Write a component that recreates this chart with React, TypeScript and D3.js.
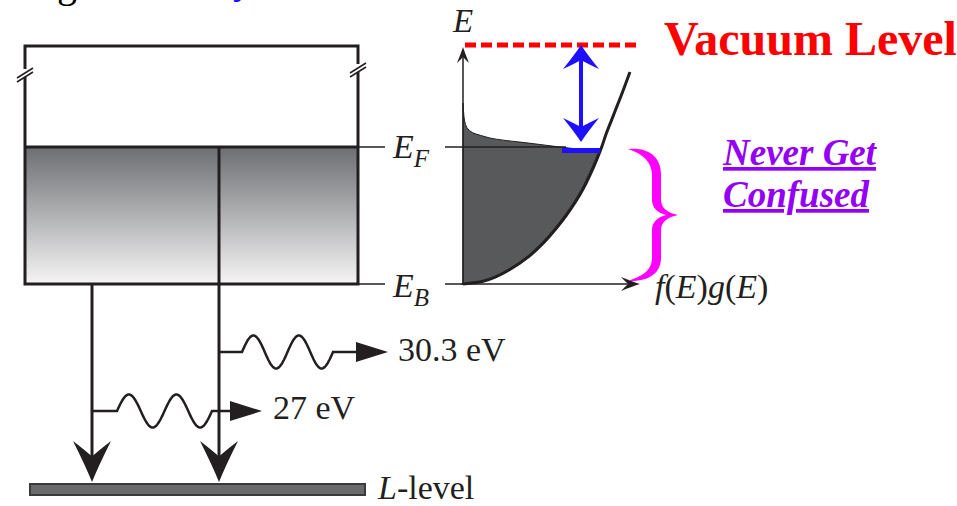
import React from "react";
import * as d3 from "d3";

// ---------- data ----------
const levelNames = ["E_B", "E_F", "Vacuum"];
const levelEnergies = [0, 1, 1.745];

// density of states g(E) (stroked curve)
const dosE = [0, 0.02, 0.05, 0.1, 0.2, 0.3, 0.4, 0.5, 0.6, 0.7, 0.8, 0.9, 1.0, 1.1, 1.2, 1.3, 1.4, 1.547];
const dosG = [0, 0.15, 0.24, 0.34, 0.49, 0.6, 0.69, 0.77, 0.84, 0.9, 0.95, 0.995, 1.035, 1.07, 1.11, 1.15, 1.19, 1.246];

// occupied states f(E)g(E) top edge (from axis spike to Fermi corner)
const occE = [1.32, 1.26, 1.19, 1.14, 1.105, 1.085, 1.066, 1.05, 1.036, 1.02, 1.0, 0.985, 0.975, 0.962, 0.94, 0.9];
const occG = [0, 0.004, 0.012, 0.03, 0.07, 0.13, 0.2, 0.3, 0.425, 0.56, 0.724, 0.86, 0.95, 1.0, 1.0, 0.985];

const photonLabels = ["30.3 eV", "27 eV"];
const axisLabels = ["E", "f(E)g(E)"];
const noteLines = ["Never Get", "Confused"];
const titleText = "Vacuum Level";

const INK = "#231f20";
const SERIF = "'Liberation Serif', 'Times New Roman', serif";

// ---------- scales ----------
const yE = d3.scaleLinear().domain([0, 1]).range([284, 147]);
const xG = d3.scaleLinear().domain([0, 1]).range([463, 597]);

function arrowHead(L: number, W: number) {
  return `M0,0 Q${-0.4 * L},${0.35 * W} ${-L},${W} Q${-0.75 * L},${0.3 * W} ${-0.62 * L},0 Q${-0.75 * L},${-0.3 * W} ${-L},${-W} Q${-0.4 * L},${-0.35 * W} 0,0 Z`;
}

function wave(x0: number, x1: number, y: number, periods: number, amp: number) {
  const n = 120;
  const pts: [number, number][] = d3.range(n + 1).map((i) => {
    const t = i / n;
    return [x0 + (x1 - x0) * t, y - amp * Math.sin(t * periods * 2 * Math.PI)];
  });
  return d3.line()(pts) as string;
}

export default function App() {
  const yEF = yE(levelEnergies[1]);
  const yEB = yE(levelEnergies[0]);
  const yVac = yE(levelEnergies[2]);
  const boxL = 25, boxR = 358, boxT = 46;
  const midX = 219, leftX = 92;
  const lTop = 484;

  const curveLine = d3.line<[number, number]>().x((d) => d[0]).y((d) => d[1]).curve(d3.curveCatmullRom);
  const dosPts: [number, number][] = dosE.map((e, i) => [xG(dosG[i]), yE(e)]);
  const topPts: [number, number][] = occE.map((e, i) => [xG(occG[i]), yE(e)]);
  const lowerPts: [number, number][] = dosE
    .map((e, i) => [xG(dosG[i]) - 1.5, yE(e)] as [number, number])
    .filter((p, i) => dosE[i] < 0.9)
    .reverse();
  const fillPath =
    `M${xG(0)},${yEB} L${xG(0)},${yE(occE[0])} ` +
    (curveLine(topPts) as string).replace(/^M/, "L") +
    " " +
    (curveLine([topPts[topPts.length - 1], ...lowerPts]) as string).replace(/^M/, "L") +
    " Z";

  const y303 = 352, y27 = 411;

  return (
    <svg width={957} height={506} style={{ position: "absolute", left: 0, top: 0, background: "#fff" }}>
      <defs>
        <linearGradient id="bandGrad" x1="0" y1="0" x2="0" y2="1">
          <stop offset="0" stopColor="#6d6e72" />
          <stop offset="1" stopColor="#f5f5f5" />
        </linearGradient>
      </defs>

      {/* clipped title fragments */}
      <text x={57} y={-3} fontFamily={SERIF} fontSize={40} fill="#000">g</text>
      <text x={233} y={-7} fontFamily={SERIF} fontSize={40} fill="#1f0fff">y</text>

      {/* ---------- left energy box ---------- */}
      <rect x={boxL} y={yEF} width={boxR - boxL} height={yEB - yEF} fill="url(#bandGrad)" />
      <rect x={boxL} y={boxT} width={boxR - boxL} height={yEB - boxT} fill="none" stroke={INK} strokeWidth={3} />
      <line x1={boxL} x2={boxR} y1={yEF} y2={yEF} stroke={INK} strokeWidth={3} />
      <line x1={midX} x2={midX} y1={yEF} y2={yEB} stroke={INK} strokeWidth={3} />
      {/* break marks */}
      {[[boxL, 73], [boxR, 68]].map(([bx, by], i) => (
        <g key={i}>
          <line x1={bx} x2={bx} y1={by - 4} y2={by + 4} stroke="#fff" strokeWidth={5} />
          <line x1={bx - 8} y1={by + 5} x2={bx + 8} y2={by - 5} stroke={INK} strokeWidth={1.5} />
          <line x1={bx - 8} y1={by + 9} x2={bx + 8} y2={by - 1} stroke={INK} strokeWidth={1.5} />
        </g>
      ))}
      {/* level tick lines */}
      <line x1={boxR} x2={385} y1={yEF} y2={yEF} stroke={INK} strokeWidth={1.5} />
      <line x1={boxR} x2={385} y1={yEB} y2={yEB} stroke={INK} strokeWidth={1.5} />
      <text x={393} y={yEF + 11} fontFamily={SERIF} fontSize={34} fontStyle="italic" fill={INK}>
        E<tspan fontSize={25} dy={9}>F</tspan>
      </text>
      <text x={393} y={yEB + 13} fontFamily={SERIF} fontSize={34} fontStyle="italic" fill={INK}>
        E<tspan fontSize={25} dy={9}>B</tspan>
      </text>

      {/* transitions */}
      <line x1={leftX} x2={leftX} y1={yEB} y2={470} stroke={INK} strokeWidth={3} />
      <line x1={midX} x2={midX} y1={yEB} y2={470} stroke={INK} strokeWidth={3} />
      <path d={arrowHead(41, 19)} transform={`translate(${leftX},${lTop - 2}) rotate(90)`} fill={INK} />
      <path d={arrowHead(41, 19)} transform={`translate(${midX},${lTop - 2}) rotate(90)`} fill={INK} />

      {/* photon 30.3 eV */}
      <path
        d={`M${midX},${y303} L242,${y303} ` + wave(242, 333, y303, 2, 16.5).replace(/^M/, "L") + ` L358,${y303}`}
        fill="none" stroke={INK} strokeWidth={2.5}
      />
      <path d={`M388,${y303} L356,${y303 - 10} L356,${y303 + 10} Z`} fill={INK} />
      <text x={398} y={y303 + 9} fontFamily={SERIF} fontSize={34} fill={INK}>{photonLabels[0]}</text>

      {/* photon 27 eV */}
      <path
        d={`M${leftX},${y27} L117,${y27} ` + wave(117, 212, y27, 2, 16.5).replace(/^M/, "L") + ` L232,${y27}`}
        fill="none" stroke={INK} strokeWidth={2.5}
      />
      <path d={`M262,${y27} L230,${y27 - 10} L230,${y27 + 10} Z`} fill={INK} />
      <text x={273} y={y27 + 8} fontFamily={SERIF} fontSize={34} fill={INK}>{photonLabels[1]}</text>

      {/* L-level bar */}
      <rect x={30} y={lTop} width={335} height={11} fill="#6a6a6c" stroke="#3a3a3c" strokeWidth={2} />
      <text x={378} y={499} fontFamily={SERIF} fontSize={34} fill={INK}>
        <tspan fontStyle="italic">L</tspan>-level
      </text>

      {/* ---------- DOS panel ---------- */}
      <path d={fillPath} fill="#58595b" stroke={INK} strokeWidth={1} />
      <line x1={445} x2={566} y1={yEF} y2={yEF} stroke={INK} strokeWidth={1.5} />
      <line x1={xG(0)} x2={xG(0)} y1={yEB} y2={52} stroke={INK} strokeWidth={1.5} />
      <path d={arrowHead(16, 6)} transform={`translate(${xG(0)},47) rotate(-90)`} fill={INK} />
      <line x1={445} x2={632} y1={yEB} y2={yEB} stroke={INK} strokeWidth={1.5} />
      <path d={arrowHead(19, 7)} transform={`translate(640,${yEB})`} fill={INK} />
      <path d={curveLine(dosPts) as string} fill="none" stroke={INK} strokeWidth={3} />

      <text x={453} y={32} fontFamily={SERIF} fontSize={33} fontStyle="italic" fill={INK}>{axisLabels[0]}</text>
      <text x={655} y={298} fontFamily={SERIF} fontSize={34} fill={INK}>
        <tspan fontStyle="italic">f</tspan>(<tspan fontStyle="italic">E</tspan>)<tspan fontStyle="italic">g</tspan>(<tspan fontStyle="italic">E</tspan>)
      </text>

      {/* vacuum level */}
      <line x1={465} x2={637} y1={yVac} y2={yVac} stroke="#ff0000" strokeWidth={5} strokeDasharray="11 5" />
      <text x={664} y={55} fontFamily={SERIF} fontSize={48} fontWeight="bold" fill="#ff0000">{titleText}</text>

      {/* work function arrow */}
      <line x1={581} x2={581} y1={60} y2={128} stroke="#1f0fff" strokeWidth={4} />
      <path d={arrowHead(24, 18)} transform={`translate(581,45) rotate(-90)`} fill="#1f0fff" />
      <path d={arrowHead(24, 18)} transform={`translate(581,142) rotate(90)`} fill="#1f0fff" />
      <rect x={562} y={148} width={38} height={5} fill="#1f0fff" />

      {/* brace */}
      <path
        d="M628,149 C650,147 661,158 661,175 L661,200 C661,208 668,213 678,215 C668,217 661,222 661,230 L661,258 C661,272 650,282 628,281 C643,276 652,270 652,258 L652,230 C652,222 658,217 666,215 C658,213 652,208 652,200 L652,175 C652,162 643,154 628,149 Z"
        fill="#ff00ff"
      />

      {/* note */}
      {noteLines.map((t, i) => (
        <text key={t} x={723} y={165 + i * 42} fontFamily={SERIF} fontSize={37} fontWeight="bold" fontStyle="italic"
          fill="#9400f5" textDecoration="underline">{t}</text>
      ))}
    </svg>
  );
}
